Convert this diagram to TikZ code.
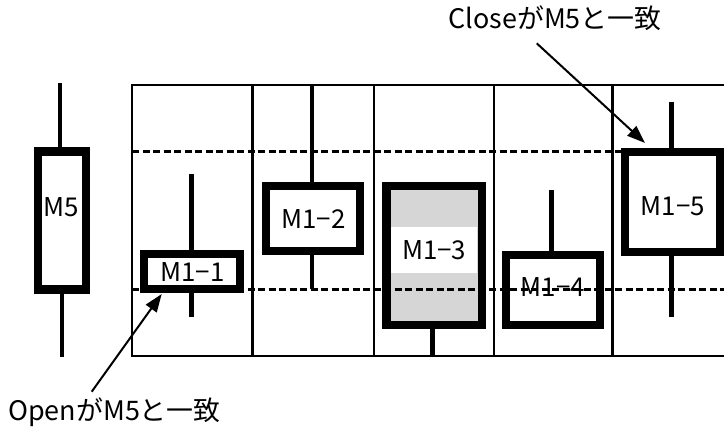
\documentclass[tikz,border=0pt]{standalone}
\usepackage{fontspec}
\setmainfont{Noto Sans CJK JP}
\usetikzlibrary{arrows.meta}
\begin{document}
\begin{tikzpicture}[x=1bp,y=-1bp,
  frameline/.style={line width=2.6bp},
  wick/.style={line width=4.5bp},
  labelfont/.style={font=\fontsize{26}{26}\selectfont},
  candle/.style={draw, line width=5.5bp, fill=white, inner sep=0pt, labelfont},
  level/.style={line width=2.6bp, dash pattern=on 7bp off 3.5bp},
  note/.style={font=\fontsize{27}{27}\selectfont, inner sep=0pt},
  pointer/.style={line width=2bp, -{Triangle[length=18bp,width=13bp]}}]
\useasboundingbox (0,0) rectangle (724,434);
% frame
\draw[frameline] (724,85) -- (132,85) -- (132,356) -- (724,356);
\foreach \x in {252.7,374,494,612.7} \draw[frameline] (\x,85) -- (\x,356);
% wick end points
\coordinate (w5t) at (60,83);
\coordinate (w5b) at (62,357);
\coordinate (w1t) at (191.7,174);
\coordinate (w1b) at (191.7,317);
\coordinate (w2t) at (312,85);
\coordinate (w2b) at (312,289);
\coordinate (w3b) at (432.7,356);
\coordinate (w4t) at (551.7,190);
\coordinate (w5ct) at (671.7,101.7);
\coordinate (w5cb) at (671.7,317);
% candles (bodies)
\node[candle, minimum width=45bp, minimum height=135.4bp] (m5) at (62,220.5) {};
\node[labelfont, inner sep=0pt] (m5lab) at (61,207) {M5};
\node[candle, minimum width=93.2bp, minimum height=32.2bp] (c1) at (192.3,271.8) {M1−1};
\node[candle, minimum width=91.2bp, minimum height=62.2bp] (c2) at (313.3,218.8) {M1−2};
\node[candle, fill=gray!32, minimum width=92.8bp, minimum height=136.2bp] (c3) at (434.2,255.8) {};
\node[fill=white, inner sep=0pt, minimum width=86bp, minimum height=46bp, labelfont] (c3lab) at (434.2,250) {M1−3};
\node[candle, minimum width=91.2bp, minimum height=67.2bp] (c4) at (552.7,289.7) {};
\node[labelfont, inner sep=0pt] (c4lab) at (552.7,287) {M1−4};
\node[candle, minimum width=92.2bp, minimum height=97.1bp] (c5) at (672.8,202) {};
\node[labelfont, inner sep=0pt] (c5lab) at (672.8,206.5) {M1−5};
% wicks
\draw[wick] (w5t) -- (w5t |- m5.north);
\draw[wick] (w5b |- m5.south) -- (w5b);
\draw[wick] (w1t) -- (w1t |- c1.north);
\draw[wick] (w1b |- c1.south) -- (w1b);
\draw[wick] (w2t) -- (w2t |- c2.north);
\draw[wick] (w2b |- c2.south) -- (w2b);
\draw[wick] (w3b |- c3.south) -- (w3b);
\draw[wick] (w4t) -- (w4t |- c4.north);
\draw[wick] (w5ct) -- (w5ct |- c5.north);
\draw[wick] (w5cb |- c5.south) -- (w5cb);
% redraw box borders over wick ends
\foreach \n in {m5,c1,c2,c3,c4,c5} \draw[line width=5.5bp] (\n.north west) rectangle (\n.south east);
% level lines
\coordinate (l1a) at (132,151.7);
\coordinate (l1b) at (724,151.7);
\coordinate (l2a) at (132,289.3);
\coordinate (l2b) at (724,289.3);
\draw[level] (l1a) -- (l1b);
\draw[level] (l2a) -- (l2b);
% notes
\node[note, anchor=base] (close) at (555,29) {CloseがM5と一致};
\node[note, anchor=base] (open) at (114.5,420) {OpenがM5と一致};
\coordinate (closefrom) at (536.7,43.3);
\coordinate (closeto) at (645,143);
\coordinate (openfrom) at (91.7,391.7);
\coordinate (opento) at (161.7,294);
\draw[pointer] (closefrom) -- (closeto);
\draw[pointer] (openfrom) -- (opento);
\end{tikzpicture}
\end{document}
